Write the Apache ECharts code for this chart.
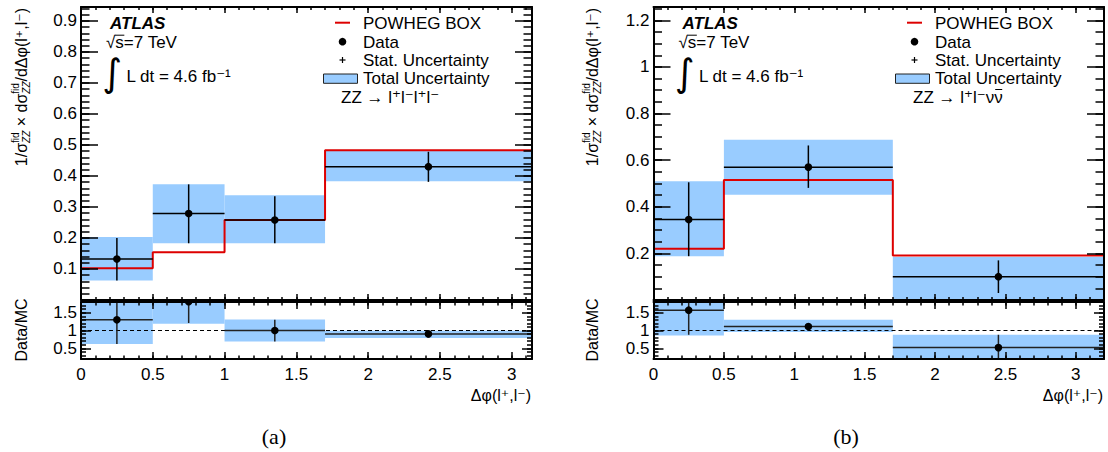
<!DOCTYPE html>
<html><head><meta charset="utf-8">
<script src="https://cdn.jsdelivr.net/npm/echarts@6/dist/echarts.min.js"></script>
<style>html,body{margin:0;padding:0;background:#fff}#c{width:1108px;height:452px}</style>
</head><body><div id="c"></div>
<script>
// ================= DATA =================
const xTickValues = [0, 0.5, 1, 1.5, 2, 2.5, 3];
const xTickLabels = ['0', '0.5', '1', '1.5', '2', '2.5', '3'];
const yTickValuesA = [0.1, 0.2, 0.3, 0.4, 0.5, 0.6, 0.7, 0.8, 0.9];
const yTickLabelsA = ['0.1', '0.2', '0.3', '0.4', '0.5', '0.6', '0.7', '0.8', '0.9'];
const yTickValuesB = [0.2, 0.4, 0.6, 0.8, 1, 1.2];
const yTickLabelsB = ['0.2', '0.4', '0.6', '0.8', '1', '1.2'];
const ratioTickValues = [0.5, 1, 1.5];
const ratioTickLabels = ['0.5', '1', '1.5'];

const xRangeA = [0, Math.PI];
const yRangeA = [0, 0.945];
const xRangeB = [0, 3.2];
const yRangeB = [0, 1.257];
const ratioRange = [0.2, 1.8];
const ratioRef = [1, 1];

// (a) ZZ -> l+l-l+l-
const binEdgesA = [0, 0.5, 1, 1.7, Math.PI];
const dataXA = [0.25, 0.75, 1.35, 2.42];
const dataYA = [0.132, 0.279, 0.258, 0.430];
const statLoA = [0.063, 0.183, 0.183, 0.381];
const statHiA = [0.200, 0.373, 0.335, 0.478];
const totLoA = [0.063, 0.183, 0.183, 0.383];
const totHiA = [0.203, 0.373, 0.338, 0.482];
const mcA = [0.102, 0.154, 0.258, 0.483];
const ratioA = [1.30, 1.81, 1.00, 0.905];
const ratioStatLoA = [0.62, 1.21, 0.69, 0.80];
const ratioStatHiA = [1.99, 2.42, 1.30, 0.99];
const ratioTotLoA = [0.62, 1.19, 0.69, 0.79];
const ratioTotHiA = [2.00, 2.42, 1.31, 0.99];

// (b) ZZ -> l+l-nu nubar
const binEdgesB = [0, 0.5, 1.7, 3.2];
const dataXB = [0.25, 1.10, 2.45];
const dataYB = [0.345, 0.570, 0.100];
const statLoB = [0.188, 0.481, 0.030];
const statHiB = [0.505, 0.663, 0.170];
const totLoB = [0.188, 0.452, 0.000];
const totHiB = [0.509, 0.687, 0.184];
const mcB = [0.220, 0.515, 0.191];
const ratioB = [1.57, 1.11, 0.52];
const ratioStatLoB = [0.88, 1.00, 0.10];
const ratioStatHiB = [2.30, 1.21, 0.88];
const ratioTotLoB = [0.86, 0.955, 0.00];
const ratioTotHiB = [2.30, 1.30, 0.88];

// ================= STYLE / LAYOUT =================
const FONT = "'Liberation Sans', Arial, Helvetica, 'DejaVu Sans', sans-serif";
const BAND = '#99ccff';
const RED = '#dd0000';
const FS = 17;

const chart = echarts.init(document.getElementById('c'), null, {renderer: 'svg'});

const grids = [
  {left: 81, top: 7, width: 451, height: 293},
  {left: 81, top: 302, width: 451, height: 57},
  {left: 653.5, top: 7, width: 450.5, height: 293},
  {left: 653.5, top: 302, width: 450.5, height: 57}
].map(g => Object.assign({outerBoundsMode: 'none', containLabel: false}, g));

const xAxis = [], yAxis = [];
function lookup(vals, labs) {
  return v => { for (let i = 0; i < vals.length; i++) if (Math.abs(vals[i] - v) < 1e-6) return labs[i]; return ''; };
}
function addAxes(list, dim, gridIndex, range, majorVals, majorLabs, minorInt, majLen, minLen, showLabels, labMargin) {
  const pos = dim === 'x' ? ['bottom', 'top'] : ['left', 'right'];
  let primary = -1;
  pos.forEach((p, i) => {
    const major = {
      type: 'value', gridIndex, position: p, min: range[0], max: range[1], z: 5,
      axisLine: {show: true, onZero: false, lineStyle: {color: '#000', width: 2}},
      axisTick: {show: true, inside: true, length: majLen, customValues: majorVals, lineStyle: {color: '#000', width: 1.5}},
      axisLabel: (i === 0 && showLabels) ? {
        show: true, customValues: majorVals, formatter: lookup(majorVals, majorLabs),
        color: '#000', fontFamily: FONT, fontSize: FS, margin: labMargin, hideOverlap: false
      } : {show: false},
      splitLine: {show: false}, minorTick: {show: false}
    };
    if (i === 0) primary = list.length;
    list.push(major);
    list.push({
      type: 'value', gridIndex, position: p, min: range[0], max: range[1], interval: minorInt, z: 5,
      axisLine: {show: false, onZero: false},
      axisTick: {show: true, inside: true, length: minLen, lineStyle: {color: '#000', width: 1.5}},
      axisLabel: {show: false}, splitLine: {show: false}
    });
  });
  return primary;
}

const axA = {
  x: addAxes(xAxis, 'x', 0, xRangeA, xTickValues, xTickLabels, 0.1, 6, 3, false, 6),
  y: addAxes(yAxis, 'y', 0, yRangeA, yTickValuesA, yTickLabelsA, 0.02, 17, 8.5, true, 4)
};
const axAr = {
  x: addAxes(xAxis, 'x', 1, xRangeA, xTickValues, xTickLabels, 0.1, 7, 3.5, true, 7),
  y: addAxes(yAxis, 'y', 1, ratioRange, ratioTickValues, ratioTickLabels, 0.1, 10, 5, true, 4)
};
const axB = {
  x: addAxes(xAxis, 'x', 2, xRangeB, xTickValues, xTickLabels, 0.1, 6, 3, false, 6),
  y: addAxes(yAxis, 'y', 2, yRangeB, yTickValuesB, yTickLabelsB, 0.05, 17, 8.5, true, 4)
};
const axBr = {
  x: addAxes(xAxis, 'x', 3, xRangeB, xTickValues, xTickLabels, 0.1, 7, 3.5, true, 7),
  y: addAxes(yAxis, 'y', 3, ratioRange, ratioTickValues, ratioTickLabels, 0.1, 10, 5, true, 4)
};

function bandSeries(ax, edges, lo, hi) {
  return {
    type: 'custom', xAxisIndex: ax.x, yAxisIndex: ax.y, clip: true, z: 1, silent: true,
    encode: {x: [0, 1], y: [2, 3]},
    data: lo.map((v, i) => [edges[i], edges[i + 1], v, hi[i]]),
    renderItem: (params, api) => {
      const p0 = api.coord([api.value(0), api.value(3)]);
      const p1 = api.coord([api.value(1), api.value(2)]);
      return {type: 'rect', shape: {x: p0[0], y: p0[1], width: p1[0] - p0[0], height: p1[1] - p0[1]},
        style: {fill: BAND}};
    }
  };
}
function errSeries(ax, edges, xs, ys, lo, hi, color) {
  return {
    type: 'custom', xAxisIndex: ax.x, yAxisIndex: ax.y, clip: true, z: 4, silent: true,
    encode: {x: [0, 2, 3], y: [1, 4, 5]},
    data: xs.map((x, i) => [x, ys[i], edges[i], edges[i + 1], lo[i], hi[i]]),
    renderItem: (params, api) => {
      const c = api.coord([api.value(0), api.value(1)]);
      const l = api.coord([api.value(2), api.value(1)]);
      const r = api.coord([api.value(3), api.value(1)]);
      const a = api.coord([api.value(0), api.value(4)]);
      const b = api.coord([api.value(0), api.value(5)]);
      return {type: 'group', children: [
        {type: 'line', shape: {x1: l[0], y1: l[1], x2: r[0], y2: r[1]}, style: {stroke: color, lineWidth: 1.5}},
        {type: 'line', shape: {x1: a[0], y1: a[1], x2: b[0], y2: b[1]}, style: {stroke: color, lineWidth: 1.5}},
        {type: 'circle', shape: {cx: c[0], cy: c[1], r: 3.8}, style: {fill: '#000'}}
      ]};
    }
  };
}
function mcSeries(ax, edges, mc) {
  const pts = mc.map((v, i) => [edges[i], v]);
  pts.push([edges[edges.length - 1], mc[mc.length - 1]]);
  return {type: 'line', xAxisIndex: ax.x, yAxisIndex: ax.y, step: 'end', symbol: 'none', z: 3, silent: true,
    data: pts, lineStyle: {color: RED, width: 2}, clip: true, animation: false};
}
function refSeries(ax, xr) {
  return {type: 'line', xAxisIndex: ax.x, yAxisIndex: ax.y, symbol: 'none', z: 2, silent: true,
    data: [[xr[0], ratioRef[0]], [xr[1], ratioRef[1]]], lineStyle: {color: '#000', width: 1, type: [4, 3]}};
}

const series = [
  bandSeries(axA, binEdgesA, totLoA, totHiA),
  mcSeries(axA, binEdgesA, mcA),
  errSeries(axA, binEdgesA, dataXA, dataYA, statLoA, statHiA, '#000'),
  bandSeries(axAr, binEdgesA, ratioTotLoA, ratioTotHiA),
  refSeries(axAr, xRangeA),
  errSeries(axAr, binEdgesA, dataXA, ratioA, ratioStatLoA, ratioStatHiA, '#222'),
  bandSeries(axB, binEdgesB, totLoB, totHiB),
  mcSeries(axB, binEdgesB, mcB),
  errSeries(axB, binEdgesB, dataXB, dataYB, statLoB, statHiB, '#000'),
  bandSeries(axBr, binEdgesB, ratioTotLoB, ratioTotHiB),
  refSeries(axBr, xRangeB),
  errSeries(axBr, binEdgesB, dataXB, ratioB, ratioStatLoB, ratioStatHiB, '#222')
];

// ================= TEXT HELPERS =================
const mctx = document.createElement('canvas').getContext('2d');
function tw(t, s, st, w, fam) {
  mctx.font = (st || 'normal') + ' ' + (w || 'normal') + ' ' + s + 'px ' + (fam || FONT);
  return mctx.measureText(t).width;
}
function txt(t, x, y, s, opts) {
  opts = opts || {};
  return {type: 'text', x, y, rotation: opts.rot || 0, z: 20, silent: true,
    style: {text: t, fontSize: s, fontFamily: opts.fam || FONT, fontStyle: opts.st || 'normal',
      fontWeight: opts.w || 'normal', fill: '#000',
      align: opts.align || 'left', verticalAlign: 'middle', textAlign: opts.align || 'left', textVerticalAlign: 'middle'}};
}
// pieces: {t, s} or {sup, sub, s} (stacked super/subscript)
function seq(pieces, x0, y0) {
  let x = x0; const els = [];
  pieces.forEach(p => {
    if (p.sup !== undefined) {
      els.push(txt(p.sup, x, y0 - 6, p.s));
      els.push(txt(p.sub, x, y0 + 5, p.s, {st: 'italic'}));
      x += Math.max(tw(p.sup, p.s), tw(p.sub, p.s, 'italic'));
    } else {
      els.push(txt(p.t, x, y0, p.s, p));
      x += tw(p.t, p.s, p.st, p.w, p.fam);
    }
  });
  return {els, width: x - x0};
}
const yTitlePieces = [
  {t: '1/σ', s: 16}, {sup: 'fid', sub: 'ZZ', s: 10},
  {t: ' × dσ', s: 16}, {sup: 'fid', sub: 'ZZ', s: 10},
  {t: '/dΔφ(l⁺,l⁻)', s: 16}
];
const xTitleText = 'Δφ(l⁺,l⁻)';
const procTextA = 'ZZ → l⁺l⁻l⁺l⁻';
const procTextB = 'ZZ → l⁺l⁻νν';
const lumiText = 'L dt = 4.6 fb⁻¹';

const graphic = [];
function panelText(frameLeft, frameRight, titleX, procText, barLast, caption, capX) {
  // rotated y title
  const yt = seq(yTitlePieces, 0, 0);
  graphic.push({type: 'group', x: titleX, y: 8 + yt.width, rotation: Math.PI / 2, children: yt.els});
  graphic.push(txt('Data/MC', titleX, 330, 16, {rot: Math.PI / 2, align: 'center'}));
  // x title (right aligned)
  graphic.push(txt(xTitleText, frameRight - 1, 395, 16, {align: 'right'}));
  // caption
  graphic.push(txt(caption, capX, 436, 22, {fam: "'Liberation Serif', 'DejaVu Serif', serif", align: 'center'}));
  // ATLAS block
  graphic.push(txt('ATLAS', frameLeft + 29, 23.5, FS, {st: 'italic', w: 'bold'}));
  const sx = frameLeft + 25;
  graphic.push(txt('√s=7 TeV', sx, 42.5, FS));
  const wr = tw('√', FS), ws = tw('s', FS);
  graphic.push({type: 'line', z: 20, shape: {x1: sx + wr - 0.5, y1: 35.2, x2: sx + wr + ws + 0.5, y2: 35.2}, style: {stroke: '#000', lineWidth: 1}});
  graphic.push(txt('∫', frameLeft + 31.5, 73, 38, {fam: "'DejaVu Sans', sans-serif", align: 'center'}));
  graphic.push(txt(lumiText, frameLeft + 45.5, 76.7, FS));
  // legend
  const lx = frameRight - 169;
  const mx = frameRight - 189.5;
  graphic.push({type: 'line', z: 20, shape: {x1: mx - 7.5, y1: 22.7, x2: mx + 7.5, y2: 22.7}, style: {stroke: RED, lineWidth: 2}});
  graphic.push(txt('POWHEG BOX', lx, 23, FS));
  graphic.push({type: 'circle', z: 20, shape: {cx: mx, cy: 41.7, r: 3.8}, style: {fill: '#000'}});
  graphic.push(txt('Data', lx, 42, FS));
  graphic.push({type: 'line', z: 20, shape: {x1: mx - 3, y1: 60, x2: mx + 3, y2: 60}, style: {stroke: '#000', lineWidth: 1.2}});
  graphic.push({type: 'line', z: 20, shape: {x1: mx, y1: 57, x2: mx, y2: 63}, style: {stroke: '#000', lineWidth: 1.2}});
  graphic.push(txt('Stat. Uncertainty', lx, 60, FS));
  graphic.push({type: 'rect', z: 20, shape: {x: frameRight - 208.5, y: 74, width: 34, height: 9.3}, style: {fill: BAND, stroke: '#222', lineWidth: 1}});
  graphic.push(txt('Total Uncertainty', lx, 78, FS));
  const px = frameRight - 191;
  graphic.push(txt(procText, px, 97, FS));
  if (barLast) {
    const w0 = tw(procText.slice(0, -1), FS), w1 = tw(procText.slice(-1), FS);
    graphic.push({type: 'line', z: 20, shape: {x1: px + w0 + 1, y1: 89.5, x2: px + w0 + w1 - 0.5, y2: 89.5}, style: {stroke: '#000', lineWidth: 1}});
  }
}
panelText(81, 532, 21, procTextA, false, '(a)', 274);
panelText(653.5, 1104, 592.5, procTextB, true, '(b)', 846);

chart.setOption({
  animation: false,
  backgroundColor: '#fff',
  grid: grids,
  xAxis, yAxis, series, graphic
});
</script></body></html>
